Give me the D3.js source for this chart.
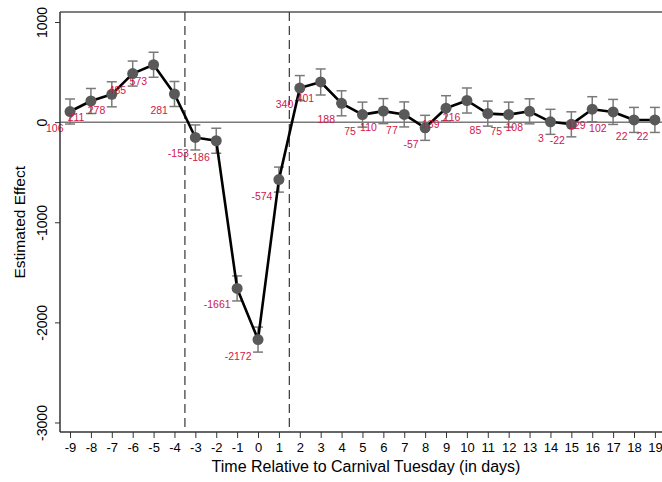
<!DOCTYPE html>
<html>
<head>
<meta charset="utf-8">
<script src="https://cdn.jsdelivr.net/npm/d3@7.9.0/dist/d3.min.js"></script>
<style>
  body { margin: 0; background: #fff; }
  svg { display: block; font-family: "Liberation Sans", Arial, sans-serif; }
</style>
</head>
<body>
<div id="chart"></div>
<script>
// ---------- Data ----------
const days = d3.range(-9, 20);
const estimates = [106, 211, 278, 485, 573, 281, -153, -186, -1661, -2172, -574,
  340, 401, 188, 75, 110, 77, -57, 139, 216, 85, 75, 108, 3, -22, 129, 102, 22, 22];
const ciHalf = [125, 125, 125, 125, 125, 125, 125, 125, 125, 125, 125,
  125, 130, 125, 125, 125, 125, 125, 125, 125, 125, 125, 125, 125, 125, 125, 125, 125, 125];
const yTicks = [1000, 0, -1000, -2000, -3000];
const eventLines = [-3.5, 1.5];

const points = days.map((d, i) => ({
  day: d,
  est: estimates[i],
  lo: estimates[i] - ciHalf[i],
  hi: estimates[i] + ciHalf[i],
}));

// ---------- Layout ----------
const width = 662;
const height = 482;
const margin = { top: 12, right: 0, bottom: 50, left: 60 };

const svg = d3.select("#chart")
  .append("svg")
  .attr("width", width)
  .attr("height", height);

const x = d3.scaleLinear()
  .domain([-9.48, 19.34])
  .range([margin.left, width - margin.right]);

const y = d3.scaleLinear()
  .domain([-3095, 1100])
  .range([height - margin.bottom, margin.top]);

const red = "#d2164a";

// frame (top border)
svg.append("line")
  .attr("x1", margin.left).attr("x2", width)
  .attr("y1", margin.top).attr("y2", margin.top)
  .attr("stroke", "#000").attr("stroke-width", 1);

// zero line
svg.append("line")
  .attr("x1", margin.left).attr("x2", width)
  .attr("y1", y(0)).attr("y2", y(0))
  .attr("stroke", "#7a7a7a").attr("stroke-width", 1.5);

// event windows
svg.append("g")
  .selectAll("line")
  .data(eventLines)
  .join("line")
  .attr("x1", (d) => x(d)).attr("x2", (d) => x(d))
  .attr("y1", margin.top).attr("y2", height - margin.bottom)
  .attr("stroke", "#444")
  .attr("stroke-width", 1.3)
  .attr("stroke-dasharray", "9,5");

// error bars
const eb = svg.append("g").attr("stroke", "#7a7a7a").attr("stroke-width", 1.5);
eb.selectAll(".ci")
  .data(points)
  .join("line")
  .attr("x1", (d) => x(d.day)).attr("x2", (d) => x(d.day))
  .attr("y1", (d) => y(d.lo)).attr("y2", (d) => y(d.hi));
eb.selectAll(".capHi")
  .data(points)
  .join("line")
  .attr("x1", (d) => x(d.day) - 5).attr("x2", (d) => x(d.day) + 5)
  .attr("y1", (d) => y(d.hi)).attr("y2", (d) => y(d.hi));
eb.selectAll(".capLo")
  .data(points)
  .join("line")
  .attr("x1", (d) => x(d.day) - 5).attr("x2", (d) => x(d.day) + 5)
  .attr("y1", (d) => y(d.lo)).attr("y2", (d) => y(d.lo));

// connecting line
svg.append("path")
  .datum(points)
  .attr("fill", "none")
  .attr("stroke", "#000")
  .attr("stroke-width", 2.6)
  .attr("stroke-linejoin", "round")
  .attr("d", d3.line().x((d) => x(d.day)).y((d) => y(d.est)));

// markers
svg.append("g")
  .selectAll("circle")
  .data(points)
  .join("circle")
  .attr("cx", (d) => x(d.day))
  .attr("cy", (d) => y(d.est))
  .attr("r", 5.5)
  .attr("fill", "#595959");

// value labels (lower-left of each marker)
svg.append("g")
  .selectAll("text")
  .data(points)
  .join("text")
  .attr("x", (d) => x(d.day) - 6.5)
  .attr("y", (d) => y(d.est) + 20)
  .attr("text-anchor", "end")
  .attr("font-size", 10.5)
  .attr("fill", red)
  .text((d) => d.est);

// ---------- Axes ----------
const xAxis = svg.append("g")
  .attr("transform", `translate(0, ${height - margin.bottom})`)
  .call(d3.axisBottom(x).tickValues(days).tickFormat((d) => String(d))
    .tickSize(6).tickPadding(5).tickSizeOuter(0));
xAxis.select(".domain").attr("stroke", "#333").attr("stroke-width", 1.5)
  .attr("d", `M${margin.left},0H${width}`);
xAxis.selectAll(".tick line").attr("stroke", "#333");
xAxis.selectAll(".tick text")
  .attr("font-size", 13)
  .attr("font-family", "Liberation Sans, Arial, sans-serif")
  .attr("fill", "#000");

const yAxis = svg.append("g")
  .attr("transform", `translate(${margin.left}, 0)`)
  .call(d3.axisLeft(y).tickValues(yTicks).tickFormat((d) => String(d))
    .tickSize(5).tickSizeOuter(0));
yAxis.select(".domain").attr("stroke", "#333").attr("stroke-width", 1.5)
  .attr("d", `M0,${margin.top}V${height - margin.bottom}`);
yAxis.selectAll(".tick line").attr("stroke", "#333");
yAxis.selectAll(".tick text")
  .attr("font-size", 14)
  .attr("font-family", "Liberation Sans, Arial, sans-serif")
  .attr("fill", "#000")
  .attr("text-anchor", "middle")
  .attr("x", 0).attr("dy", 0)
  .attr("transform", "translate(-13, 0) rotate(-90)")
  .attr("y", 0);

// axis titles
svg.append("text")
  .attr("x", (margin.left + width) / 2 + 5)
  .attr("y", 472)
  .attr("text-anchor", "middle")
  .attr("font-size", 16)
  .text("Time Relative to Carnival Tuesday (in days)");

svg.append("text")
  .attr("transform", `translate(25, ${y(-1000)}) rotate(-90)`)
  .attr("text-anchor", "middle")
  .attr("font-size", 15.5)
  .text("Estimated Effect");
</script>
</body>
</html>
